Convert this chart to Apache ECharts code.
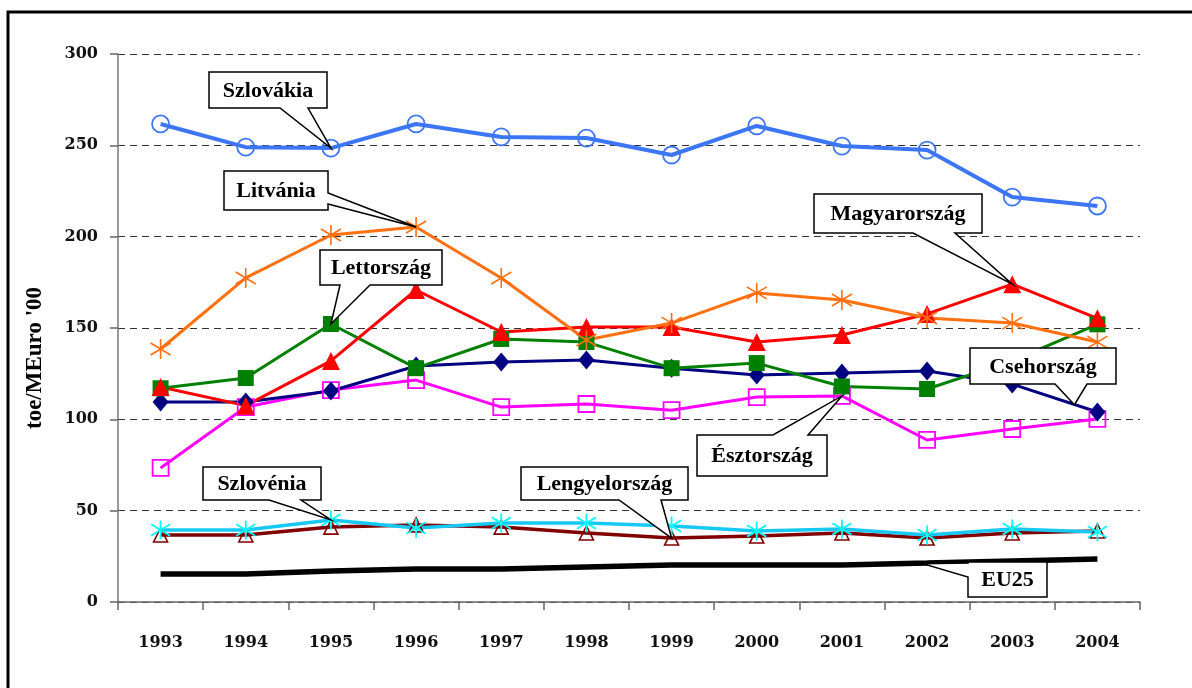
<!DOCTYPE html>
<html>
<head>
<meta charset="utf-8">
<script src="https://cdn.jsdelivr.net/npm/echarts@6/dist/echarts.min.js"></script>
<style>
  html, body { margin: 0; padding: 0; background: #fff; }
  #chart { width: 1192px; height: 688px; }
</style>
</head>
<body>
<div id="chart"></div>
<script>
// Data
const years = ['1993', '1994', '1995', '1996', '1997', '1998', '1999', '2000', '2001', '2002', '2003', '2004']
const yTicks = [0, 50, 100, 150, 200, 250, 300]

const szlovakia = [261.7, 249, 248.5, 261.7, 254.6, 254, 244.7, 260.6, 249.6, 247.4, 221.7, 216.8]
const litvania = [138.5, 177.4, 200.9, 205.3, 177.4, 143.4, 152.7, 169.2, 165.3, 155.5, 152.7, 142.3]
const magyarorszag = [117.7, 107.5, 132, 170.8, 147.8, 150.5, 150.5, 142.3, 146.2, 157.7, 174, 155.3]
const lettorszag = [117, 122.6, 152.2, 128, 144, 142.3, 128, 130.8, 118, 116.6, 132, 152]
const csehorszag = [109.5, 109.5, 115.5, 129.2, 131.4, 132.5, 128, 124.3, 125.4, 126.5, 119.3, 104]
const esztorszag = [73.4, 106.7, 116, 121.5, 106.7, 108.4, 105, 112.2, 112.8, 88.7, 94.7, 100.2]
const szlovenia = [39.4, 39.4, 44.9, 40.5, 43.2, 43.2, 41.6, 38.9, 40, 36.7, 40, 38.3]
const lengyelorszag = [36.7, 36.7, 41, 42.2, 41, 37.8, 35, 36.1, 37.8, 35, 37.8, 38.9]
const eu25 = [15.3, 15.3, 17, 18, 18, 19.2, 20.3, 20.3, 20.3, 21.3, 22.4, 23.5]

// callouts: box [x1, y1, x2, y2] in px, wedge side + base, tip in data space [category index, value]
const callouts = [
  { text: 'Szlovákia', box: [209, 72, 327, 108], side: 'bottom', base: [280, 308], tip: [2, 248.5] },
  { text: 'Litvánia', box: [224, 171, 328, 210], side: 'right', base: [193, 204], tip: [3, 205.3] },
  { text: 'Lettország', box: [320, 250, 442, 285], side: 'bottom', base: [340, 370], tip: [2, 152.2] },
  { text: 'Magyarország', box: [814, 194, 982, 233], side: 'bottom', base: [913, 955], tip: [10, 174] },
  { text: 'Csehország', box: [970, 348, 1116, 384], side: 'bottom', base: [1055, 1087], tip: [10.73, 108] },
  { text: 'Észtország', box: [697, 435, 827, 476], side: 'top', base: [773, 808], tip: [8, 112.8] },
  { text: 'Szlovénia', box: [203, 467, 321, 500], side: 'bottom', base: [269, 301], tip: [2, 44.9] },
  { text: 'Lengyelország', box: [521, 467, 688, 500], side: 'bottom', base: [619, 661], tip: [6, 35] },
  { text: 'EU25', box: [968, 562, 1047, 597], side: 'left', base: [563, 577], tip: [8.95, 21] },
]

const asterisk = 'path://M10 0 L10 20 M1.5 4 L18.5 16 M1.5 16 L18.5 4'
const serif = 'Liberation Serif'
const tickFont = 'DejaVu Serif'

const chart = echarts.init(document.getElementById('chart'), null, { renderer: 'canvas' })

function lineSeries (name, data, color, symbol, size, opts) {
  opts = opts || {}
  return {
    name: name,
    type: 'line',
    data: data,
    symbol: symbol,
    symbolSize: size,
    lineStyle: { color: color, width: opts.width || 3 },
    itemStyle: {
      color: opts.hollow ? 'rgba(0,0,0,0)' : color,
      borderColor: opts.markColor || color,
      borderWidth: opts.border || 0,
    },
    emphasis: { disabled: true },
    animation: false,
  }
}

chart.setOption({
  backgroundColor: '#fff',
  animation: false,
  grid: { left: 118, right: 52, top: 54, bottom: 86 },
  xAxis: {
    type: 'category',
    data: years,
    boundaryGap: true,
    axisLine: { lineStyle: { color: '#666', width: 1.5 } },
    axisTick: { show: true, length: 8, lineStyle: { color: '#666', width: 1.5 } },
    axisLabel: { margin: 33, color: '#111', fontFamily: tickFont, fontWeight: 'bold', fontSize: 16 },
    splitLine: { show: false },
  },
  yAxis: {
    type: 'value',
    min: yTicks[0],
    max: yTicks[yTicks.length - 1],
    interval: 50,
    axisLine: { show: true, lineStyle: { color: '#777', width: 1.5 } },
    axisTick: { show: true, length: 8, lineStyle: { color: '#666', width: 1.5 } },
    axisLabel: { margin: 20, color: '#111', fontFamily: tickFont, fontWeight: 'bold', fontSize: 16 },
    splitLine: { show: true, lineStyle: { color: '#333', width: 1, type: [7, 5] } },
  },
  series: [
    lineSeries('EU25', eu25, '#000', 'none', 0, { width: 5.5 }),
    lineSeries('Lengyelország', lengyelorszag, '#800000', 'triangle', 14, { hollow: true, border: 1.6, width: 3.5 }),
    lineSeries('Szlovénia', szlovenia, '#16c8f2', asterisk, 19, { markColor: '#00ffff', border: 1.8, width: 3.5 }),
    lineSeries('Észtország', esztorszag, '#ff00ff', 'rect', 16, { hollow: true, border: 1.8 }),
    lineSeries('Csehország', csehorszag, '#000080', 'diamond', [16, 19]),
    lineSeries('Lettország', lettorszag, '#008000', 'rect', 16),
    lineSeries('Magyarország', magyarorszag, '#ff0000', 'triangle', 18),
    lineSeries('Litvánia', litvania, '#ff7010', asterisk, 20, { border: 1.6 }),
    lineSeries('Szlovákia', szlovakia, '#3d76f5', 'circle', 17, { hollow: true, border: 1.8, width: 4 }),
  ],
})

function toPx (tip) {
  const i0 = Math.floor(tip[0])
  const f = tip[0] - i0
  const p0 = chart.convertToPixel({ xAxisIndex: 0, yAxisIndex: 0 }, [i0, tip[1]])
  if (f === 0) return p0
  const p1 = chart.convertToPixel({ xAxisIndex: 0, yAxisIndex: 0 }, [i0 + 1, tip[1]])
  return [p0[0] + (p1[0] - p0[0]) * f, p0[1]]
}

function calloutPoints (c) {
  const [x1, y1, x2, y2] = c.box
  const t = toPx(c.tip)
  const [a, b] = c.base
  const pts = [[x1, y1]]
  if (c.side === 'top') pts.push([a, y1], t, [b, y1])
  pts.push([x2, y1])
  if (c.side === 'right') pts.push([x2, a], t, [x2, b])
  pts.push([x2, y2])
  if (c.side === 'bottom') pts.push([b, y2], t, [a, y2])
  pts.push([x1, y2])
  if (c.side === 'left') pts.push([x1, b], t, [x1, a])
  return pts
}

const graphics = [
  {
    type: 'rect',
    shape: { x: 8, y: 12, width: 1200, height: 700 },
    style: { fill: 'none', stroke: '#000', lineWidth: 3 },
    z: 0,
    silent: true,
  },
  {
    type: 'text',
    x: 35,
    y: 358,
    rotation: Math.PI / 2,
    style: {
      text: "toe/MEuro '00",
      fill: '#000',
      font: 'bold 23px "' + serif + '"',
      align: 'center',
      verticalAlign: 'middle',
    },
    z: 50,
  },
]

callouts.forEach(c => {
  graphics.push({
    type: 'polygon',
    shape: { points: calloutPoints(c) },
    style: { fill: '#fff', stroke: '#000', lineWidth: 1.5 },
    z: 100,
    silent: true,
  })
  graphics.push({
    type: 'text',
    x: (c.box[0] + c.box[2]) / 2,
    y: (c.box[1] + c.box[3]) / 2 + 1,
    style: {
      text: c.text,
      fill: '#000',
      font: 'bold 22px "' + serif + '"',
      align: 'center',
      verticalAlign: 'middle',
    },
    z: 101,
    silent: true,
  })
})

chart.setOption({ graphic: graphics })
</script>
</body>
</html>
